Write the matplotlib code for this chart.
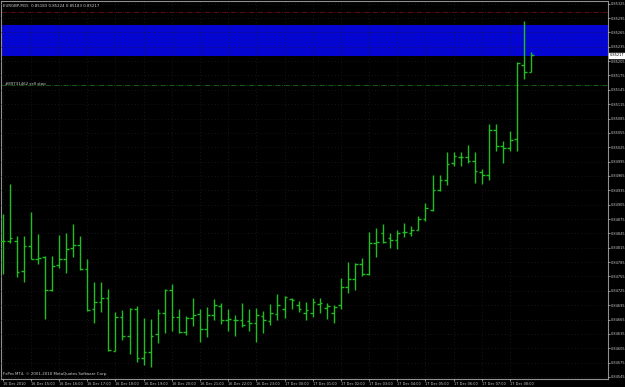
import numpy as np
import matplotlib
matplotlib.use('Agg')
import matplotlib.pyplot as plt

# EURGBP M15, 16 Dec 2010 14:00 .. 17 Dec 2010 08:45
opens = [0.84829, 0.84830, 0.84830, 0.84767, 0.84819, 0.84791, 0.84795, 0.84727,
         0.84778, 0.84791, 0.84815, 0.84820, 0.84770, 0.84686, 0.84701, 0.84709,
         0.84600, 0.84670, 0.84631, 0.84688, 0.84585, 0.84598, 0.84634, 0.84679,
         0.84727, 0.84671, 0.84638, 0.84668, 0.84676, 0.84645, 0.84674, 0.84694,
         0.84665, 0.84664, 0.84665, 0.84661, 0.84657, 0.84672, 0.84662, 0.84676,
         0.84688, 0.84707, 0.84695, 0.84679, 0.84678, 0.84697, 0.84689, 0.84679,
         0.84695, 0.84734, 0.84749, 0.84780, 0.84760, 0.84825, 0.84845, 0.84836,
         0.84832, 0.84847, 0.84845, 0.84853, 0.84876, 0.84893, 0.84936, 0.84956,
         0.84992, 0.85005, 0.85005, 0.84996, 0.84973, 0.84966, 0.85062, 0.85027,
         0.85024, 0.85043, 0.85197, 0.85183]
highs = [0.84886, 0.84948, 0.84840, 0.84839, 0.84889, 0.84843, 0.84797, 0.84798,
         0.84841, 0.84845, 0.84864, 0.84839, 0.84791, 0.84743, 0.84744, 0.84729,
         0.84681, 0.84685, 0.84690, 0.84694, 0.84669, 0.84667, 0.84688, 0.84729,
         0.84739, 0.84688, 0.84672, 0.84710, 0.84686, 0.84692, 0.84707, 0.84699,
         0.84688, 0.84674, 0.84699, 0.84686, 0.84689, 0.84683, 0.84697, 0.84718,
         0.84714, 0.84711, 0.84704, 0.84701, 0.84709, 0.84709, 0.84700, 0.84695,
         0.84751, 0.84786, 0.84783, 0.84793, 0.84847, 0.84856, 0.84864, 0.84845,
         0.84853, 0.84867, 0.84861, 0.84882, 0.84909, 0.84967, 0.84968, 0.85016,
         0.85015, 0.85016, 0.85029, 0.85016, 0.84980, 0.85073, 0.85073, 0.85037,
         0.85059, 0.85204, 0.85288, 0.85224]
lows = [0.84761, 0.84824, 0.84754, 0.84744, 0.84791, 0.84781, 0.84667, 0.84725,
        0.84772, 0.84763, 0.84795, 0.84769, 0.84683, 0.84658, 0.84680, 0.84600,
        0.84599, 0.84622, 0.84594, 0.84577, 0.84569, 0.84566, 0.84615, 0.84636,
        0.84640, 0.84636, 0.84633, 0.84652, 0.84619, 0.84629, 0.84664, 0.84656,
        0.84640, 0.84631, 0.84649, 0.84642, 0.84619, 0.84637, 0.84653, 0.84663,
        0.84669, 0.84686, 0.84681, 0.84665, 0.84670, 0.84678, 0.84666, 0.84658,
        0.84688, 0.84720, 0.84727, 0.84756, 0.84758, 0.84796, 0.84824, 0.84815,
        0.84812, 0.84838, 0.84840, 0.84852, 0.84871, 0.84891, 0.84933, 0.84946,
        0.84986, 0.84986, 0.84992, 0.84950, 0.84948, 0.84956, 0.85018, 0.84992,
        0.85018, 0.85017, 0.85167, 0.85183]
closes = [0.84829, 0.84836, 0.84765, 0.84819, 0.84792, 0.84794, 0.84727, 0.84776,
          0.84791, 0.84813, 0.84820, 0.84770, 0.84685, 0.84701, 0.84711, 0.84601,
          0.84671, 0.84630, 0.84688, 0.84584, 0.84598, 0.84631, 0.84679, 0.84727,
          0.84671, 0.84639, 0.84668, 0.84674, 0.84645, 0.84674, 0.84695, 0.84664,
          0.84666, 0.84665, 0.84653, 0.84658, 0.84674, 0.84664, 0.84679, 0.84695,
          0.84712, 0.84706, 0.84688, 0.84685, 0.84701, 0.84699, 0.84693, 0.84692,
          0.84734, 0.84749, 0.84780, 0.84761, 0.84825, 0.84828, 0.84827, 0.84832,
          0.84845, 0.84848, 0.84852, 0.84875, 0.84898, 0.84935, 0.84956, 0.84989,
          0.85006, 0.85005, 0.84996, 0.84975, 0.84968, 0.85062, 0.85027, 0.85024,
          0.85041, 0.85202, 0.85182, 0.85217]

time_labels = ['16 Dec 2010', '16 Dec 15:00', '16 Dec 16:00', '16 Dec 17:00',
               '16 Dec 18:00', '16 Dec 19:00', '16 Dec 20:00', '16 Dec 21:00',
               '16 Dec 22:00', '16 Dec 23:00', '17 Dec 00:00', '17 Dec 01:00',
               '17 Dec 02:00', '17 Dec 03:00', '17 Dec 04:00', '17 Dec 05:00',
               '17 Dec 06:00', '17 Dec 07:00', '17 Dec 08:00']
price_ticks = [0.84545 + 0.0003 * k for k in range(27)]

zone_low, zone_high = 0.85216, 0.85281   # blue rectangle
red_level = 0.85308
stop_level = 0.85154
stop_text = '#89731462 sell stop'
header = 'EURGBP,M15  0.85183 0.85224 0.85183 0.85217'
footer = 'FxPro MT4, \u00a9 2001-2010 MetaQuotes Software Corp.'

fig = plt.figure(figsize=(6.25, 3.87), dpi=100, facecolor='black')
ax = fig.add_axes([0.002, 0.021, 0.9708, 0.977])
ax.set_facecolor('black')

x = np.arange(len(opens))
bar_col = '#1fbf1f'
ax.vlines(x, lows, highs, color=bar_col, lw=1.0, zorder=3)
ax.hlines(opens, x - 0.38, x, color=bar_col, lw=1.0, zorder=3)
ax.hlines(closes, x, x + 0.38, color=bar_col, lw=1.0, zorder=3)

ax.axhspan(zone_low, zone_high, color='#0505d2', lw=0, zorder=1)
ax.axhline(red_level, color='#6e1010', lw=0.6, ls='-.', zorder=2)
ax.axhline(stop_level, color='#1a6a1a', lw=0.6, ls='-.', zorder=2)

ax.set_xlim(-0.2, 85.9)
ax.set_ylim(0.84541, 0.85331)

ax.set_xticks(np.arange(0, len(opens), 4), time_labels)
for lbl in ax.get_xticklabels():
    lbl.set_ha('left')
ax.yaxis.tick_right()
ax.set_yticks(price_ticks, ['%.5f' % p for p in price_ticks])
ax.tick_params(colors='#c8c8c8', labelsize=2.5, length=1.5, width=0.5, pad=0.8)
ax.tick_params(axis='x', pad=0.5)

ax.set_axisbelow(False)
ax.grid(True, color='#1e1e1e', ls=(0, (1, 3)), lw=0.6)
for s in ax.spines.values():
    s.set_color('#909090')
    s.set_linewidth(0.8)

ax.text(2 / 608, 1 - 5 / 379, header, transform=ax.transAxes, color='#d0d0d0',
        fontsize=2.8, va='center', ha='left')
ax.text(2 / 608, 0.012, footer, transform=ax.transAxes, color='#d0d0d0',
        fontsize=2.8, va='center', ha='left')
ax.text(0.4, stop_level + 0.00004, stop_text, color='#d0d0d0', fontsize=2.8,
        va='center', ha='left', zorder=4)

# current price marker on the price scale
ax.text(1.003, closes[-1], '%.5f' % closes[-1], transform=ax.get_yaxis_transform(),
        color='black', fontsize=2.5, va='center', ha='left', clip_on=False,
        bbox=dict(boxstyle='square,pad=0.15', fc='white', ec='white'))

fig.savefig('out.png', dpi=100, facecolor='black')
